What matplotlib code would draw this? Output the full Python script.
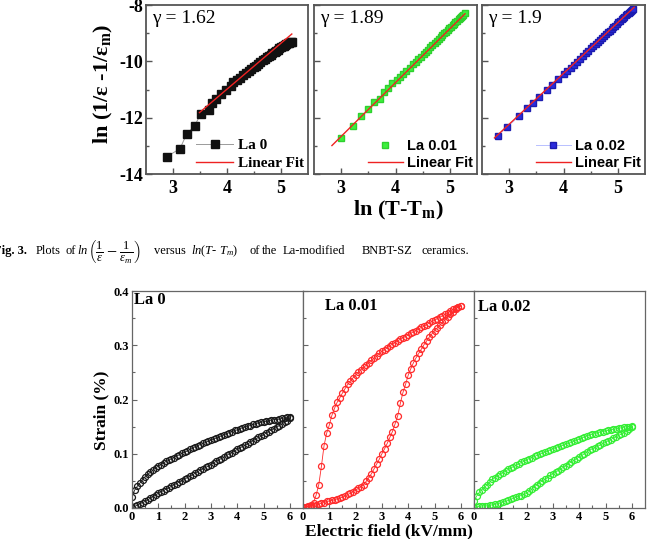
import matplotlib
matplotlib.use("Agg")
import matplotlib.pyplot as plt
from matplotlib.ticker import FormatStrFormatter

plt.rcParams['font.family'] = ['Liberation Serif', 'DejaVu Serif']
plt.rcParams['mathtext.fontset'] = 'custom'
plt.rcParams['mathtext.rm'] = 'Liberation Serif'
plt.rcParams['mathtext.it'] = 'Liberation Serif:italic'
plt.rcParams['mathtext.bf'] = 'Liberation Serif:bold'
plt.rcParams['axes.unicode_minus'] = False

W, H = 655, 539

# --- Fig. 3 : ln(1/eps - 1/eps_m) vs ln(T - Tm) ---
la0_lnT = [2.89, 3.13, 3.25, 3.40, 3.51, 3.66, 3.73, 3.80, 3.89, 3.99, 4.07, 4.12,
           4.18, 4.24, 4.30, 4.35, 4.40, 4.45, 4.50, 4.54, 4.58, 4.62,
           4.66, 4.70, 4.74, 4.78, 4.81, 4.84, 4.88, 4.91, 4.94, 4.97,
           5.00, 5.03, 5.05, 5.08, 5.10, 5.13, 5.15, 5.18, 5.20]
la0_lneps = [-13.38, -13.10, -12.59, -12.29, -11.88, -11.72, -11.49, -11.32, -11.17, -11.01, -10.87, -10.75,
             -10.68, -10.58, -10.50, -10.42, -10.35, -10.28, -10.21, -10.15, -10.09, -10.03,
             -9.97, -9.92, -9.86, -9.80, -9.76, -9.72, -9.66, -9.62, -9.58, -9.54,
             -9.50, -9.47, -9.44, -9.41, -9.39, -9.36, -9.35, -9.33, -9.31]

la001_lnT = [2.99, 3.21, 3.36, 3.50, 3.60, 3.71, 3.79, 3.87, 3.94, 4.02,
             4.08, 4.14, 4.20, 4.26, 4.32, 4.37, 4.42, 4.47, 4.52, 4.56,
             4.60, 4.64, 4.68, 4.72, 4.76, 4.80, 4.83, 4.86, 4.90, 4.93,
             4.96, 4.99, 5.02, 5.05, 5.08, 5.10, 5.13, 5.16, 5.18, 5.21,
             5.23, 5.25, 5.27]
la001_lneps = [-12.71, -12.31, -11.94, -11.70, -11.46, -11.32, -11.09, -10.93, -10.78, -10.66,
               -10.57, -10.46, -10.34, -10.23, -10.11, -10.02, -9.92, -9.83, -9.73, -9.66,
               -9.58, -9.50, -9.43, -9.35, -9.27, -9.20, -9.14, -9.08, -9.01, -8.95,
               -8.89, -8.83, -8.78, -8.72, -8.66, -8.62, -8.57, -8.51, -8.47, -8.41,
               -8.38, -8.34, -8.30]

la002_lnT = [2.79, 2.96, 3.18, 3.33, 3.44, 3.55, 3.69, 3.79, 3.89, 4.01,
             4.07, 4.13, 4.19, 4.25, 4.31, 4.36, 4.41, 4.46, 4.51, 4.55,
             4.59, 4.63, 4.67, 4.71, 4.75, 4.79, 4.82, 4.85, 4.89, 4.92,
             4.95, 4.98, 5.01, 5.04, 5.07, 5.09, 5.12, 5.15, 5.17, 5.20,
             5.22, 5.24, 5.26, 5.28]
la002_lneps = [-12.65, -12.34, -11.95, -11.66, -11.49, -11.25, -11.01, -10.84, -10.62, -10.45,
               -10.34, -10.23, -10.12, -10.01, -9.90, -9.81, -9.72, -9.63, -9.54, -9.46,
               -9.39, -9.32, -9.24, -9.17, -9.10, -9.02, -8.97, -8.91, -8.84, -8.79,
               -8.73, -8.67, -8.62, -8.57, -8.51, -8.47, -8.42, -8.36, -8.33, -8.27,
               -8.24, -8.20, -8.16, -8.13]

fit_x = [[3.49, 5.20], [2.83, 5.28], [2.73, 5.30]]
fit_y = [[-11.82, -9.03], [-12.99, -8.31], [-12.72, -8.08]]
gamma_labels = ["γ = 1.62", "γ = 1.89", "γ = 1.9"]
sample_labels = ["La 0", "La 0.01", "La 0.02"]

# --- strain vs electric field loops ---
field_kv = [0.0, 0.1, 0.2, 0.3, 0.4, 0.5, 0.6, 0.7, 0.8, 0.9,
            1.0, 1.1, 1.2, 1.3, 1.4, 1.5, 1.6, 1.7, 1.8, 1.9,
            2.0, 2.1, 2.2, 2.3, 2.4, 2.5, 2.6, 2.7, 2.8, 2.9,
            3.0, 3.1, 3.2, 3.3, 3.4, 3.5, 3.6, 3.7, 3.8, 3.9,
            4.0, 4.1, 4.2, 4.3, 4.4, 4.5, 4.6, 4.7, 4.8, 4.9,
            5.0, 5.1, 5.2, 5.3, 5.4, 5.5, 5.6, 5.7, 5.8, 5.9, 6.0]

la0_rise = [0.000, 0.003, 0.005, 0.008, 0.010, 0.012, 0.015, 0.018, 0.021, 0.024,
            0.027, 0.030, 0.032, 0.035, 0.037, 0.040, 0.043, 0.045, 0.048, 0.050,
            0.053, 0.056, 0.059, 0.061, 0.064, 0.067, 0.070, 0.072, 0.075, 0.077,
            0.080, 0.083, 0.086, 0.089, 0.091, 0.094, 0.097, 0.100, 0.102, 0.105,
            0.108, 0.111, 0.113, 0.116, 0.118, 0.121, 0.124, 0.127, 0.130, 0.132,
            0.135, 0.138, 0.141, 0.144, 0.146, 0.149, 0.152, 0.155, 0.158, 0.161, 0.165]
la0_fall = [0.020, 0.033, 0.040, 0.046, 0.052, 0.058, 0.062, 0.066, 0.070, 0.074,
            0.077, 0.080, 0.083, 0.086, 0.088, 0.091, 0.093, 0.096, 0.098, 0.101,
            0.103, 0.105, 0.108, 0.110, 0.113, 0.115, 0.117, 0.119, 0.121, 0.123,
            0.125, 0.127, 0.129, 0.131, 0.133, 0.135, 0.137, 0.139, 0.141, 0.143,
            0.144, 0.146, 0.148, 0.149, 0.151, 0.152, 0.154, 0.155, 0.157, 0.158,
            0.159, 0.160, 0.161, 0.162, 0.163, 0.163, 0.164, 0.165, 0.166, 0.167, 0.168]

la001_rise = [0.000, 0.001, 0.002, 0.003, 0.004, 0.006, 0.007, 0.009, 0.010, 0.012,
              0.013, 0.014, 0.015, 0.017, 0.018, 0.020, 0.022, 0.025, 0.027, 0.030,
              0.033, 0.036, 0.039, 0.043, 0.049, 0.056, 0.063, 0.072, 0.081, 0.090,
              0.100, 0.109, 0.119, 0.130, 0.141, 0.155, 0.170, 0.193, 0.213, 0.228,
              0.245, 0.257, 0.268, 0.277, 0.285, 0.293, 0.301, 0.308, 0.315, 0.321,
              0.327, 0.332, 0.337, 0.342, 0.347, 0.352, 0.357, 0.362, 0.366, 0.370, 0.373]
la001_fall = [0.002, 0.002, 0.003, 0.005, 0.010, 0.024, 0.043, 0.077, 0.115, 0.138,
              0.153, 0.171, 0.184, 0.195, 0.203, 0.212, 0.220, 0.228, 0.234, 0.240,
              0.245, 0.250, 0.255, 0.259, 0.263, 0.268, 0.272, 0.276, 0.280, 0.285,
              0.289, 0.292, 0.295, 0.299, 0.302, 0.305, 0.308, 0.311, 0.314, 0.316,
              0.319, 0.322, 0.325, 0.327, 0.330, 0.333, 0.335, 0.338, 0.341, 0.344,
              0.346, 0.349, 0.352, 0.354, 0.357, 0.360, 0.363, 0.366, 0.368, 0.371, 0.373]

la002_rise = [0.000, 0.002, 0.003, 0.004, 0.004, 0.004, 0.005, 0.006, 0.007, 0.008,
              0.009, 0.011, 0.012, 0.014, 0.016, 0.018, 0.020, 0.022, 0.023, 0.025,
              0.027, 0.031, 0.035, 0.039, 0.043, 0.047, 0.050, 0.053, 0.056, 0.060,
              0.063, 0.066, 0.069, 0.072, 0.075, 0.078, 0.082, 0.085, 0.088, 0.091,
              0.094, 0.097, 0.100, 0.104, 0.107, 0.109, 0.111, 0.114, 0.116, 0.119,
              0.121, 0.124, 0.126, 0.129, 0.131, 0.134, 0.136, 0.139, 0.142, 0.145, 0.149]
la002_fall = [0.012, 0.022, 0.029, 0.034, 0.038, 0.043, 0.048, 0.053, 0.056, 0.059,
              0.062, 0.065, 0.068, 0.071, 0.074, 0.076, 0.079, 0.081, 0.084, 0.086,
              0.089, 0.091, 0.093, 0.095, 0.097, 0.099, 0.101, 0.103, 0.105, 0.107,
              0.109, 0.111, 0.113, 0.114, 0.116, 0.118, 0.119, 0.121, 0.123, 0.125,
              0.127, 0.129, 0.131, 0.133, 0.135, 0.136, 0.137, 0.139, 0.140, 0.141,
              0.142, 0.143, 0.144, 0.145, 0.146, 0.147, 0.148, 0.149, 0.150, 0.150, 0.151]

# caption pieces and their left edges in pixels (justified line in the original)
caption_words = ["Plots", "of", r"$\mathit{ln}$", "versus", r"$\mathit{ln}(T$- $T_m)$",
                 "of", "the", "La-modified", "BNBT-SZ", "ceramics."]
caption_x = [36, 65, 77, 154, 191, 249, 262, 283, 362, 422]
caption_frac = r"$\left(\frac{\mathit{1}}{\varepsilon}-\frac{\mathit{1}}{\varepsilon_m}\right)$"


def px_axes(fig, left, right, top, bottom):
    """Axes placed by pixel edges of the 655x539 canvas."""
    return fig.add_axes([left / W, 1 - bottom / H, (right - left) / W, (bottom - top) / H])


fig = plt.figure(figsize=(W / 100, H / 100), dpi=100)

# --- top row ---
top_cols = [(146, 308), (314, 477), (482, 645)]
top_data = [(la0_lnT, la0_lneps), (la001_lnT, la001_lneps), (la002_lnT, la002_lneps)]
top_style = [
    dict(marker='s', ms=6, color='#9a9a9a', lw=0.7, mfc='#111111', mec='#111111'),
    dict(marker='s', ms=5, ls='none', mfc='#3cf03c', mec='#2ed02e'),
    dict(marker='s', ms=4.8, color='#b8c0ff', lw=0.7, mfc='#2b2bdc', mec='#1c1cb0'),
]
legend_font = [
    dict(family='Liberation Serif', weight='bold', size=11),
    dict(family='Liberation Sans', weight='bold', size=10.5),
    dict(family='Liberation Sans', weight='bold', size=10.5),
]

for i, (l, r) in enumerate(top_cols):
    ax = px_axes(fig, l, r, 5, 174)
    x, y = top_data[i]
    ax.plot(x, y, label=sample_labels[i], **top_style[i])
    ax.plot(fit_x[i], fit_y[i], color='#ee2222', lw=1.0, label='Linear Fit')
    ax.set_xlim(2.5, 5.5)
    ax.set_ylim(-14, -8)
    ax.set_xticks([3, 4, 5])
    ax.set_xticks([3.5, 4.5], minor=True)
    ax.set_yticks([-14, -12, -10, -8])
    ax.set_yticks([-13, -11, -9], minor=True)
    ax.tick_params(which='both', direction='in', color='#555555', width=1,
                   labelsize=13, labelleft=(i == 0))
    ax.tick_params(axis='x', pad=4)
    ax.tick_params(axis='y', pad=2)
    ax.tick_params(which='major', length=4)
    ax.tick_params(which='minor', length=2.5)
    for lab in ax.get_xticklabels() + ax.get_yticklabels():
        lab.set_fontweight('bold')
    for sp in ax.spines.values():
        sp.set_color('#555555')
        sp.set_linewidth(1.3)
    ax.text(0.04, 0.97, gamma_labels[i], transform=ax.transAxes,
            ha='left', va='top', fontsize=14)
    ax.legend(loc='lower right', bbox_to_anchor=(1.03, -0.03), frameon=False,
              prop=legend_font[i], handlelength=2.4, handletextpad=0.3,
              labelspacing=0.25, borderaxespad=0.2)

fig.text(103 / W, 1 - 84 / H, r"ln (1/ε -1/ε$_\mathbf{m}$)", rotation=90,
         ha='center', va='center', fontsize=16, fontweight='bold')
fig.text(398 / W, 1 - 210 / H, r"ln (T-T$_\mathbf{m}$)",
         ha='center', va='center', fontsize=16, fontweight='bold')

# caption
cap_y = 1 - 251 / H
fig.text(-6 / W, cap_y, "Fig. 3.", fontsize=9, fontweight='bold', va='center')
for word, xpx in zip(caption_words, caption_x):
    fig.text(xpx / W, cap_y, word, fontsize=9, va='center')
fig.text(88 / W, 1 - 251.5 / H, caption_frac, fontsize=13, va='center')

# --- bottom row ---
bot_cols = [(132, 303), (303, 474), (474, 645)]
loops = [(la0_rise, la0_fall), (la001_rise, la001_fall), (la002_rise, la002_fall)]
loop_colors = ['#1a1a1a', '#ff2a2a', '#33ee33']
tag_pos = [(0.012, 0.995), (0.13, 0.97), (0.023, 0.965)]

for i, (l, r) in enumerate(bot_cols):
    ax = px_axes(fig, l, r, 291, 508)
    rise, fall = loops[i]
    ex = field_kv + field_kv[::-1]
    st = rise + fall[::-1]
    ax.plot(ex, st, marker='o', ms=4.3, mfc='none', mec=loop_colors[i], mew=0.9,
            color=loop_colors[i], lw=0.6)
    ax.set_xlim(0, 6.5)
    ax.set_ylim(0, 0.4)
    ax.set_xticks([0, 1, 2, 3, 4, 5, 6])
    ax.set_xticks([0.5, 1.5, 2.5, 3.5, 4.5, 5.5], minor=True)
    ax.set_yticks([0.0, 0.1, 0.2, 0.3, 0.4])
    ax.set_yticks([0.05, 0.15, 0.25, 0.35], minor=True)
    ax.yaxis.set_major_formatter(FormatStrFormatter('%.1f'))
    ax.tick_params(which='both', direction='in', color='#666666', width=0.8,
                   labelsize=9, labelleft=(i == 0), pad=2)
    ax.tick_params(which='major', length=3.5)
    ax.tick_params(which='minor', length=2)
    for lab in ax.get_xticklabels() + ax.get_yticklabels():
        lab.set_fontweight('bold')
    for sp in ax.spines.values():
        sp.set_color('#666666')
        sp.set_linewidth(0.9)
    ax.text(tag_pos[i][0], tag_pos[i][1], sample_labels[i], transform=ax.transAxes,
            ha='left', va='top', fontsize=12, fontweight='bold')

fig.text(101 / W, 1 - 410 / H, "Strain (%)", rotation=90, ha='center', va='center',
         fontsize=12.5, fontweight='bold')
fig.text(389 / W, 1 - 531 / H, "Electric field (kV/mm)", ha='center', va='center',
         fontsize=12.5, fontweight='bold')

fig.savefig("out.png", dpi=100)
